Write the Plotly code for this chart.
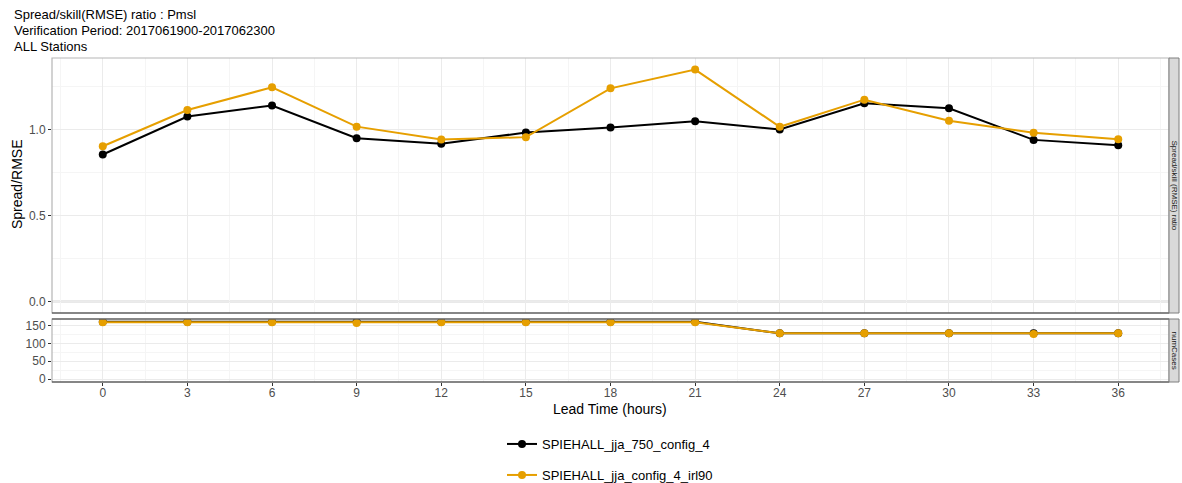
import plotly.graph_objects as go

lead_time = [0, 3, 6, 9, 12, 15, 18, 21, 24, 27, 30, 33, 36]
series_names = ["SPIEHALL_jja_750_config_4", "SPIEHALL_jja_config_4_irl90"]
ratio_750 = [0.855, 1.076, 1.140, 0.950, 0.917, 0.983, 1.012, 1.048, 1.000, 1.153, 1.124, 0.940, 0.909]
ratio_irl90 = [0.903, 1.114, 1.246, 1.017, 0.942, 0.956, 1.240, 1.349, 1.016, 1.174, 1.051, 0.981, 0.944]
cases_750 = [160, 160, 160, 160, 160, 160, 160, 160, 128, 128, 128, 128, 128]
cases_irl90 = [159, 159, 159, 157, 159, 159, 159, 159, 128, 128, 128, 126, 128]
title_lines = ["Spread/skill(RMSE) ratio : Pmsl", "Verification Period: 2017061900-2017062300", "ALL Stations"]
strip_labels = ["Spread/skill (RMSE) ratio", "numCases"]
y_title = "Spread/RMSE"
x_title = "Lead Time (hours)"

colors = ["#000000", "#E69F00"]
FONT = "Liberation Sans, Arial, sans-serif"
TICKC = "#4d4d4d"

fig = go.Figure()

for i, (name, r, c) in enumerate([(series_names[0], ratio_750, cases_750), (series_names[1], ratio_irl90, cases_irl90)]):
    leg = "legend" if i == 0 else "legend2"
    fig.add_trace(go.Scatter(x=lead_time, y=r, mode="lines+markers", name=name,
                             line=dict(color=colors[i], width=2), marker=dict(color=colors[i], size=8),
                             xaxis="x", yaxis="y2", legend=leg, showlegend=True))
    fig.add_trace(go.Scatter(x=lead_time, y=c, mode="lines+markers", name=name,
                             line=dict(color=colors[i], width=2), marker=dict(color=colors[i], size=8),
                             xaxis="x", yaxis="y", showlegend=False))

W, H = 1182, 483
ml, mr, mt, mb = 52, 13, 58, 101
pw = W - ml - mr
ph = H - mt - mb

def py(pix):
    return (H - mb - pix) / ph

top_dom = [py(313), 1.0]
bot_dom = [0.0, py(319)]

grid_major = "#ebebeb"
grid_minor = "#f5f5f5"

fig.update_layout(
    width=W, height=H,
    margin=dict(l=ml, r=mr, t=mt, b=mb, autoexpand=False),
    paper_bgcolor="white", plot_bgcolor="white",
    font=dict(family=FONT, size=13, color="#000000"),
    xaxis=dict(domain=[0, 1], anchor="y", range=[-1.8, 37.8], tickmode="array", tickvals=lead_time,
               ticktext=[str(v) for v in lead_time], showgrid=True, gridcolor=grid_major, gridwidth=1,
               minor=dict(dtick=1.5, tick0=0, showgrid=True, gridcolor=grid_minor, ticks=""),
               ticks="outside", ticklen=3, tickcolor="#333333", tickfont=dict(size=12, color=TICKC),
               ticklabelstandoff=-3,
               zeroline=False, showline=False, automargin=False),
    xaxis2=dict(domain=[0, 1], anchor="y2", matches="x", showticklabels=False, showgrid=True,
                gridcolor=grid_major, tickmode="array", tickvals=lead_time,
                minor=dict(dtick=1.5, tick0=0, showgrid=True, gridcolor=grid_minor, ticks=""),
                zeroline=False, showline=False, ticks=""),
    yaxis=dict(domain=bot_dom, anchor="x", range=[-8, 168], tickvals=[0, 50, 100, 150],
               showgrid=True, gridcolor=grid_major,
               minor=dict(tickvals=[25, 75, 125], showgrid=True, gridcolor=grid_minor, ticks=""),
               ticks="outside", ticklen=3, tickcolor="#333333", tickfont=dict(size=12, color=TICKC),
               zeroline=False, showline=False, automargin=False),
    yaxis2=dict(domain=top_dom, anchor="x2", range=[-0.0675, 1.4165], tickvals=[0, 0.5, 1.0],
                ticktext=["0.0", "0.5", "1.0"], showgrid=True, gridcolor=grid_major,
                minor=dict(tickvals=[0.25, 0.75, 1.25], showgrid=True, gridcolor=grid_minor, ticks=""),
                ticks="outside", ticklen=3, tickcolor="#333333", tickfont=dict(size=12, color=TICKC),
                zeroline=False, showline=False, automargin=False),
    legend=dict(xref="container", yref="container", x=502 / W, y=1 - 429 / H, xanchor="left", yanchor="top",
                orientation="v", font=dict(size=13, color="#000000"), bgcolor="rgba(0,0,0,0)",
                itemwidth=30),
    legend2=dict(xref="container", yref="container", x=502 / W, y=1 - 460 / H, xanchor="left", yanchor="top",
                 orientation="v", font=dict(size=13, color="#000000"), bgcolor="rgba(0,0,0,0)",
                 itemwidth=30),
)

# axis titles
fig.add_annotation(xref="paper", yref="paper", x=(17 - ml) / pw, y=py(185), text=y_title, textangle=-90,
                   showarrow=False, xanchor="center", yanchor="middle", font=dict(size=14, color="#000000"))
fig.add_annotation(xref="paper", yref="paper", x=(610 - ml) / pw, y=py(409), text=x_title,
                   showarrow=False, xanchor="center", yanchor="middle", font=dict(size=14, color="#000000"))

# horizontal reference line at 0 in the top panel
fig.add_shape(type="line", xref="x domain", yref="y2", x0=0, x1=1, y0=0, y1=0,
              line=dict(color="#a6a6a6", width=1.5), layer="below")

# panel borders
fig.add_shape(type="rect", xref="x domain", yref="y2 domain", x0=0, x1=1, y0=0, y1=1,
              line=dict(color="#b5b5b5", width=1.2))
fig.add_shape(type="line", xref="x domain", yref="y2 domain", x0=0, x1=1, y0=0, y1=0,
              line=dict(color="#333333", width=1.2))
fig.add_shape(type="rect", xref="x domain", yref="y domain", x0=0, x1=1, y0=0, y1=1,
              line=dict(color="#b5b5b5", width=1.2))
fig.add_shape(type="line", xref="x domain", yref="y domain", x0=0, x1=1, y0=0, y1=0,
              line=dict(color="#333333", width=1.2))
fig.add_shape(type="line", xref="x domain", yref="y domain", x0=0, x1=1, y0=1, y1=1,
              line=dict(color="#333333", width=1.2))

# strips on the right
sx0 = 1.0
sx1 = 1.0 + 10 / pw
for dom_ref, label in [("y2 domain", strip_labels[0]), ("y domain", strip_labels[1])]:
    fig.add_shape(type="rect", xref="paper", yref=dom_ref, x0=sx0, x1=sx1, y0=0, y1=1,
                  fillcolor="#d9d9d9", line=dict(color="#7f7f7f", width=1))
    fig.add_annotation(xref="paper", yref=dom_ref, x=(sx0 + sx1) / 2, y=0.5, text=label,
                       textangle=90, showarrow=False, font=dict(size=8, color="#1a1a1a"),
                       xanchor="center", yanchor="middle")

# title lines
for k, t in enumerate(title_lines):
    fig.add_annotation(xref="paper", yref="paper", x=(12 - ml) / pw, y=py(14 + 16 * k), text=t,
                       showarrow=False, xanchor="left", yanchor="middle",
                       font=dict(size=13, color="#000000"))

fig.write_html("out.html")
